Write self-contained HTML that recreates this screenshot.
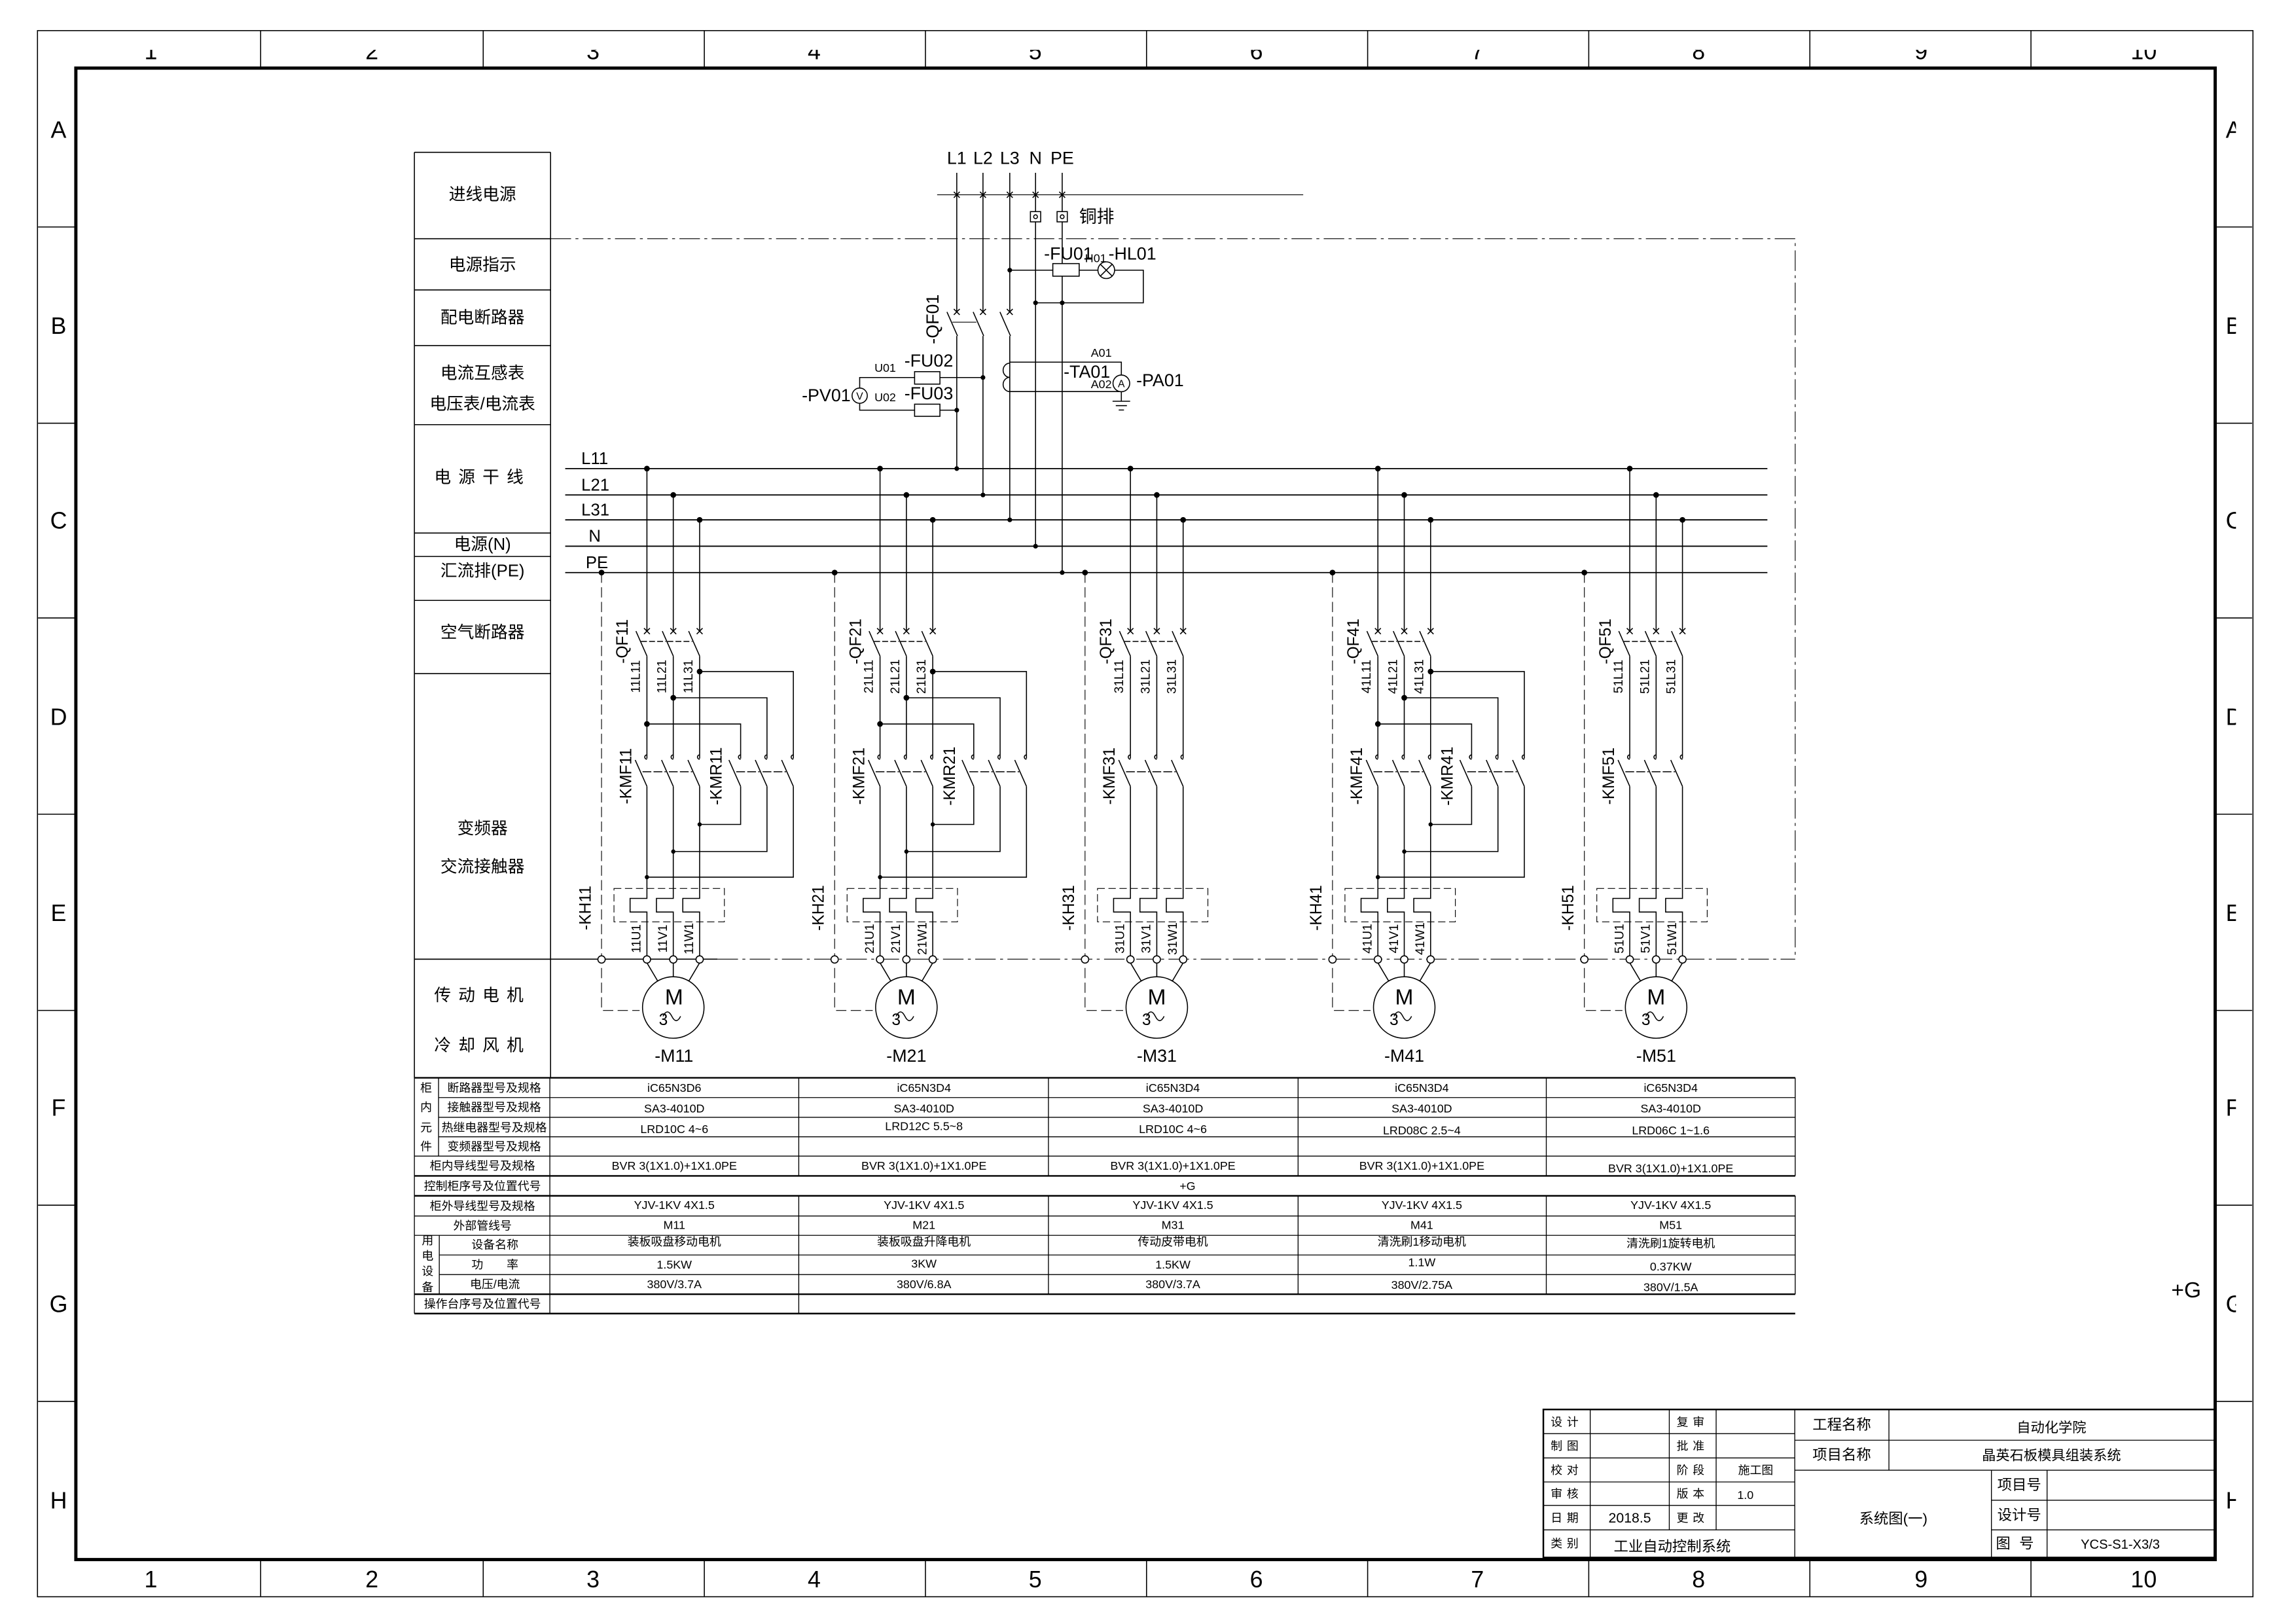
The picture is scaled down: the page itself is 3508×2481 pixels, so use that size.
<!DOCTYPE html>
<html><head><meta charset="utf-8"><style>
html,body{margin:0;padding:0;background:#fff;}
svg{display:block;}
text{font-family:"Liberation Sans","Noto Sans CJK SC",sans-serif;fill:#000;}
.t{font-size:11.5px;text-anchor:middle;dominant-baseline:central;}
.s{font-size:8px;text-anchor:middle;dominant-baseline:central;}
.m{font-size:12px;}
.r{font-size:8.5px;text-anchor:middle;dominant-baseline:central;}
</style></head><body>
<svg xmlns="http://www.w3.org/2000/svg" width="3508" height="2481" viewBox="0 0 1568 1109" preserveAspectRatio="none">
<defs>
<clipPath id="ctop"><rect x="0" y="34" width="1568" height="12"/></clipPath>
<clipPath id="cright"><rect x="1512" y="0" width="15" height="1109"/></clipPath>
<g id="br" stroke="#000" stroke-width="0.7" fill="none">
 <line x1="0" y1="320" x2="0" y2="431"/>
 <line x1="18" y1="338" x2="18" y2="431"/>
 <line x1="36" y1="355" x2="36" y2="431"/>
 <circle cx="0" cy="320" r="1.6" fill="#000"/>
 <circle cx="18" cy="338" r="1.6" fill="#000"/>
 <circle cx="36" cy="355" r="1.6" fill="#000"/>
 <path d="M-2,429 l4,4 M2,429 l-4,4 M16,429 l4,4 M20,429 l-4,4 M34,429 l4,4 M38,429 l-4,4"/>
 <path d="M-7.5,431 L0,448 M10.5,431 L18,448 M28.5,431 L36,448"/>
 <path d="M-4,438 H13 M14,438 H31" stroke-dasharray="4,1.5"/>
 <line x1="0" y1="448" x2="0" y2="518"/>
 <line x1="18" y1="448" x2="18" y2="518"/>
 <line x1="36" y1="448" x2="36" y2="518"/>
 <path d="M0,518.5 a1.5,1.5 0 1 1 0,-3 M18,518.5 a1.5,1.5 0 1 1 0,-3 M36,518.5 a1.5,1.5 0 1 1 0,-3"/>
 <path d="M-8,519 L0,537 M10,519 L18,537 M28,519 L36,537"/>
 <path d="M-3,527 H13 M15,527 H31" stroke-dasharray="6,1.5"/>
 <path d="M0,537 V613.5 H-11.5 V622.8 H0 V655 M18,537 V613.5 H6.5 V622.8 H18 V655 M36,537 V613.5 H24.5 V622.8 H36 V655"/>
 <rect x="-22.5" y="606.7" width="75.4" height="22.8" stroke-dasharray="5,2.5" stroke-width="0.5"/>
 <path d="M-31,391 V690 H-5" stroke-dasharray="7,3" stroke-width="0.5"/>
 <circle cx="-31" cy="391" r="1.6" fill="#000"/>
 <path d="M0,657.5 L8,671 M18,657.5 V667 M36,657.5 L28,671"/>
 <circle cx="18" cy="688" r="21" fill="#fff"/>
 <circle cx="0" cy="655.2" r="2.5" fill="#fff"/>
 <circle cx="18" cy="655.2" r="2.5" fill="#fff"/>
 <circle cx="36" cy="655.2" r="2.5" fill="#fff"/>
 <circle cx="-31" cy="655.2" r="2.5" fill="#fff"/>
 <path d="M11,694 q3,-6 6,0 q3,6 6,0"/>
</g>
<g id="rev" stroke="#000" stroke-width="0.7" fill="none">
 <path d="M36,458.6 H100 V518 M18,476.5 H82 V518 M0,494.4 H64 V518"/>
 <circle cx="36" cy="458.6" r="1.6" fill="#000"/>
 <circle cx="18" cy="476.5" r="1.6" fill="#000"/>
 <circle cx="0" cy="494.4" r="1.6" fill="#000"/>
 <path d="M64,518.5 a1.5,1.5 0 1 1 0,-3 M82,518.5 a1.5,1.5 0 1 1 0,-3 M100,518.5 a1.5,1.5 0 1 1 0,-3"/>
 <path d="M56,519 L64,537 M74,519 L82,537 M92,519 L100,537"/>
 <path d="M61,527 H77 M79,527 H95" stroke-dasharray="6,1.5"/>
 <path d="M64,537 V563 H36 M82,537 V581.5 H18 M100,537 V599 H0"/>
 <circle cx="36" cy="563" r="1.1" fill="#000"/>
 <circle cx="18" cy="581.5" r="1.1" fill="#000"/>
 <circle cx="0" cy="599" r="1.1" fill="#000"/>
</g>
</defs>
<rect width="1568" height="1109" fill="#fff"/>

<rect x="25.6" y="20.9" width="1513" height="1069.5" fill="none" stroke="#000" stroke-width="0.7"/>
<g clip-path="url(#ctop)" font-size="16" text-anchor="middle">
<text x="103" y="40.5">1</text><text x="254" y="40.5">2</text><text x="405" y="40.5">3</text><text x="556" y="40.5">4</text><text x="707" y="40.5">5</text><text x="858" y="40.5">6</text><text x="1009" y="40.5">7</text><text x="1160" y="40.5">8</text><text x="1312" y="40.5">9</text><text x="1464" y="40.5">10</text>
</g>
<g clip-path="url(#cright)" font-size="16">
<text x="1520" y="94">A</text><text x="1520" y="228">B</text><text x="1520" y="361">C</text><text x="1520" y="495">D</text><text x="1520" y="629">E</text><text x="1520" y="762">F</text><text x="1520" y="896">G</text><text x="1520" y="1030">H</text>
</g>
<g stroke="#000" stroke-width="0.7">
<path d="M178,21V46M330,21V46M481,21V46M632,21V46M783,21V46M934,21V46M1085,21V46M1236,21V46M1387,21V46"/>
<path d="M178,1065V1090M330,1065V1090M481,1065V1090M632,1065V1090M783,1065V1090M934,1065V1090M1085,1065V1090M1236,1065V1090M1387,1065V1090"/>
<path d="M26,155H52M26,289H52M26,422H52M26,556H52M26,690H52M26,823H52M26,957H52"/>
<path d="M1512,155H1538M1512,289H1538M1512,422H1538M1512,556H1538M1512,690H1538M1512,823H1538M1512,957H1538"/>
</g>
<rect x="51.8" y="46.5" width="1461" height="1018.5" fill="none" stroke="#000" stroke-width="2.2"/>
<g font-size="16" text-anchor="middle">
<text x="103" y="1084">1</text><text x="254" y="1084">2</text><text x="405" y="1084">3</text><text x="556" y="1084">4</text><text x="707" y="1084">5</text><text x="858" y="1084">6</text><text x="1009" y="1084">7</text><text x="1160" y="1084">8</text><text x="1312" y="1084">9</text><text x="1464" y="1084">10</text>
<text x="40" y="94">A</text><text x="40" y="228">B</text><text x="40" y="361">C</text><text x="40" y="495">D</text><text x="40" y="629">E</text><text x="40" y="762">F</text><text x="40" y="896">G</text><text x="40" y="1030">H</text>
</g>
<text x="1493" y="886" font-size="15" text-anchor="middle">+G</text>

<g stroke="#000" stroke-width="0.7">
<path d="M283,104H376M283,163H376M283,198H376M283,236H376M283,290H376M283,364H376M283,380H376M283,410H376M283,460H376M283,655H376"/>
<path d="M283,104V736M376,104V736"/>
</g>
<text class="t" x="329.5" y="133">进线电源</text>
<text class="t" x="329.5" y="181">电源指示</text>
<text class="t" x="329.5" y="217">配电断路器</text>
<text class="t" x="329.5" y="255">电流互感表</text>
<text class="t" x="329.5" y="276">电压表/电流表</text>
<text class="t" x="329.5" y="326" letter-spacing="5">电源干线</text>
<text class="t" x="329.5" y="372">电源(N)</text>
<text class="t" x="329.5" y="390">汇流排(PE)</text>
<text class="t" x="329.5" y="432">空气断路器</text>
<text class="t" x="329.5" y="566">变频器</text>
<text class="t" x="329.5" y="592">交流接触器</text>
<text class="t" x="329.5" y="680" letter-spacing="5">传动电机</text>
<text class="t" x="329.5" y="714" letter-spacing="5">冷却风机</text>

<g stroke="#000" stroke-width="0.5" fill="none" stroke-dasharray="14,3,2,3">
<path d="M376,163H1226V655"/>
<path d="M490,655H1226"/>
</g>
<line x1="283" y1="655" x2="490" y2="655" stroke="#000" stroke-width="0.7"/>

<g class="m" font-size="12.5" text-anchor="middle">
<text x="653.4" y="112">L1</text><text x="671.3" y="112">L2</text><text x="689.6" y="112">L3</text><text x="707.2" y="112">N</text><text x="725.4" y="112">PE</text>
</g>
<g stroke="#000" stroke-width="0.7" fill="none">
<line x1="640" y1="133" x2="890" y2="133" stroke-width="0.5"/>
<path d="M651.4,131l4,4M655.4,131l-4,4M669.3,131l4,4M673.3,131l-4,4M687.6,131l4,4M691.6,131l-4,4M705.2,131l4,4M709.2,131l-4,4M723.4,131l4,4M727.4,131l-4,4"/>
<path d="M653.4,118V213M671.3,118V213M689.6,118V213M707.2,118V373M725.4,118V391"/>
<rect x="703.7" y="144.5" width="7" height="7" fill="#fff"/><circle cx="707.2" cy="148" r="1.3"/>
<rect x="721.9" y="144.5" width="7" height="7" fill="#fff"/><circle cx="725.4" cy="148" r="1.3"/>
<path d="M651.4,211l4,4M655.4,211l-4,4M669.3,211l4,4M673.3,211l-4,4M687.6,211l4,4M691.6,211l-4,4"/>
<path d="M646.7,213L653.9,229.4M664.6,213L671.8,229.4M682.9,213L690.1,229.4"/>
<line x1="650.4" y1="220" x2="666.8" y2="220" stroke-width="0.5"/>
<path d="M653.4,229.4V320M671.3,229.4V338M689.6,229.4V355"/>
<path d="M689.6,184.5H749.8M761.2,184.5H780.8V206.8H707.2"/>
<rect x="719" y="180" width="18" height="8.6" fill="#fff"/>
<circle cx="755.5" cy="184.5" r="5.7"/>
<path d="M751.5,180.5l8,8M759.5,180.5l-8,8"/>
<path d="M689.6,247.3H765.8V256.1M765.8,267.4V274M689.6,267.4H765.8V267.4"/>
<path d="M689.6,248 a4.5,4.8 0 0 0 0,9.7 a4.5,4.8 0 0 0 0,9.7" />
<circle cx="765.8" cy="261.8" r="5.7" fill="#fff"/>
<path d="M759.8,274H771.8M762,277H769.6M764,280H767.6"/>
<path d="M587.1,264.9V257.8H671.3M587.1,275.4V280.1H653.4"/>
<rect x="624.6" y="253.8" width="17.3" height="8.5" fill="#fff"/>
<rect x="624.6" y="276" width="17.3" height="8.3" fill="#fff"/>
<circle cx="587.1" cy="270.2" r="5.2" fill="#fff"/>
</g>
<g fill="#000">
<circle cx="689.6" cy="184.5" r="1.6"/><circle cx="707.2" cy="206.8" r="1.6"/><circle cx="725.4" cy="206.8" r="1.6"/>
<circle cx="671.3" cy="257.8" r="1.6"/><circle cx="653.4" cy="280.1" r="1.6"/>
<circle cx="653.4" cy="320" r="1.6"/><circle cx="671.3" cy="338" r="1.6"/><circle cx="689.6" cy="355" r="1.6"/><circle cx="707.2" cy="373" r="1.6"/><circle cx="725.4" cy="391" r="1.6"/>
</g>
<text x="737" y="152" font-size="12" fill="#333">铜排</text>
<text x="713" y="177.3" font-size="12">-FU01</text>
<text x="741" y="179" font-size="8">H01</text>
<text x="757" y="177.3" font-size="12">-HL01</text>
<text x="745" y="243.6" font-size="8">A01</text>
<text x="745" y="265" font-size="8">A02</text>
<text x="726.4" y="258" font-size="12">-TA01</text>
<text x="776" y="263.8" font-size="12">-PA01</text>
<text x="765.8" y="264.5" font-size="7" text-anchor="middle">A</text>
<text x="587.1" y="273" font-size="7" text-anchor="middle">V</text>
<text x="617.6" y="250.3" font-size="12">-FU02</text>
<text x="617.6" y="272.7" font-size="12">-FU03</text>
<text x="547.6" y="274" font-size="12">-PV01</text>
<text x="597.2" y="254" font-size="8">U01</text>
<text x="597.2" y="274" font-size="8">U02</text>
<text x="637" y="218" font-size="12" text-anchor="middle" dominant-baseline="central" transform="rotate(-90 637 218)">-QF01</text>

<g stroke="#000" stroke-width="0.8">
<path d="M386,320H1207M386,338H1207M386,355H1207M386,373H1207M386,391H1207"/>
</g>
<g font-size="11.5">
<text x="397" y="317">L11</text><text x="397" y="335">L21</text><text x="397" y="352">L31</text><text x="402" y="370">N</text><text x="400" y="388">PE</text>
</g>

<use href="#br" x="441.8" y="0"/><use href="#rev" x="441.8" y="0"/>
<use href="#br" x="601" y="0"/><use href="#rev" x="601" y="0"/>
<use href="#br" x="772" y="0"/>
<use href="#br" x="941" y="0"/><use href="#rev" x="941" y="0"/>
<use href="#br" x="1113" y="0"/>

<g class="r">
<text x="425.4" y="438" font-size="11" transform="rotate(-90 425.4 438)">-QF11</text>
<text x="434.4" y="462" transform="rotate(-90 434.4 462)">11L11</text>
<text x="452.4" y="462" transform="rotate(-90 452.4 462)">11L21</text>
<text x="470.4" y="462" transform="rotate(-90 470.4 462)">11L31</text>
<text x="427.7" y="530" font-size="11" transform="rotate(-90 427.7 530)">-KMF11</text>
<text x="489.5" y="530" font-size="11" transform="rotate(-90 489.5 530)">-KMR11</text>
<text x="400" y="620" font-size="11" transform="rotate(-90 400 620)">-KH11</text>
<text x="435" y="641" transform="rotate(-90 435 641)">11U1</text>
<text x="453" y="641" transform="rotate(-90 453 641)">11V1</text>
<text x="471" y="641" transform="rotate(-90 471 641)">11W1</text>
<text x="584.6" y="438" font-size="11" transform="rotate(-90 584.6 438)">-QF21</text>
<text x="593.6" y="462" transform="rotate(-90 593.6 462)">21L11</text>
<text x="611.6" y="462" transform="rotate(-90 611.6 462)">21L21</text>
<text x="629.6" y="462" transform="rotate(-90 629.6 462)">21L31</text>
<text x="586.9" y="530" font-size="11" transform="rotate(-90 586.9 530)">-KMF21</text>
<text x="648.7" y="530" font-size="11" transform="rotate(-90 648.7 530)">-KMR21</text>
<text x="559.2" y="620" font-size="11" transform="rotate(-90 559.2 620)">-KH21</text>
<text x="594.2" y="641" transform="rotate(-90 594.2 641)">21U1</text>
<text x="612.2" y="641" transform="rotate(-90 612.2 641)">21V1</text>
<text x="630.2" y="641" transform="rotate(-90 630.2 641)">21W1</text>
<text x="755.6" y="438" font-size="11" transform="rotate(-90 755.6 438)">-QF31</text>
<text x="764.6" y="462" transform="rotate(-90 764.6 462)">31L11</text>
<text x="782.6" y="462" transform="rotate(-90 782.6 462)">31L21</text>
<text x="800.6" y="462" transform="rotate(-90 800.6 462)">31L31</text>
<text x="757.9" y="530" font-size="11" transform="rotate(-90 757.9 530)">-KMF31</text>
<text x="730.2" y="620" font-size="11" transform="rotate(-90 730.2 620)">-KH31</text>
<text x="765.2" y="641" transform="rotate(-90 765.2 641)">31U1</text>
<text x="783.2" y="641" transform="rotate(-90 783.2 641)">31V1</text>
<text x="801.2" y="641" transform="rotate(-90 801.2 641)">31W1</text>
<text x="924.6" y="438" font-size="11" transform="rotate(-90 924.6 438)">-QF41</text>
<text x="933.6" y="462" transform="rotate(-90 933.6 462)">41L11</text>
<text x="951.6" y="462" transform="rotate(-90 951.6 462)">41L21</text>
<text x="969.6" y="462" transform="rotate(-90 969.6 462)">41L31</text>
<text x="926.9" y="530" font-size="11" transform="rotate(-90 926.9 530)">-KMF41</text>
<text x="988.7" y="530" font-size="11" transform="rotate(-90 988.7 530)">-KMR41</text>
<text x="899.2" y="620" font-size="11" transform="rotate(-90 899.2 620)">-KH41</text>
<text x="934.2" y="641" transform="rotate(-90 934.2 641)">41U1</text>
<text x="952.2" y="641" transform="rotate(-90 952.2 641)">41V1</text>
<text x="970.2" y="641" transform="rotate(-90 970.2 641)">41W1</text>
<text x="1096.6" y="438" font-size="11" transform="rotate(-90 1096.6 438)">-QF51</text>
<text x="1105.6" y="462" transform="rotate(-90 1105.6 462)">51L11</text>
<text x="1123.6" y="462" transform="rotate(-90 1123.6 462)">51L21</text>
<text x="1141.6" y="462" transform="rotate(-90 1141.6 462)">51L31</text>
<text x="1098.9" y="530" font-size="11" transform="rotate(-90 1098.9 530)">-KMF51</text>
<text x="1071.2" y="620" font-size="11" transform="rotate(-90 1071.2 620)">-KH51</text>
<text x="1106.2" y="641" transform="rotate(-90 1106.2 641)">51U1</text>
<text x="1124.2" y="641" transform="rotate(-90 1124.2 641)">51V1</text>
<text x="1142.2" y="641" transform="rotate(-90 1142.2 641)">51W1</text>
</g>
<g text-anchor="middle">
<text x="460.3" y="686" font-size="15">M</text><text x="453" y="700" font-size="11">3</text><text x="460.3" y="725" font-size="12">-M11</text>
<text x="619" y="686" font-size="15">M</text><text x="612" y="700" font-size="11">3</text><text x="619" y="725" font-size="12">-M21</text>
<text x="790" y="686" font-size="15">M</text><text x="783" y="700" font-size="11">3</text><text x="790" y="725" font-size="12">-M31</text>
<text x="959" y="686" font-size="15">M</text><text x="952" y="700" font-size="11">3</text><text x="959" y="725" font-size="12">-M41</text>
<text x="1131" y="686" font-size="15">M</text><text x="1124" y="700" font-size="11">3</text><text x="1131" y="725" font-size="12">-M51</text>
</g>

<g stroke="#000" stroke-width="0.6" fill="none">
<path d="M283,736H1226M283,803H1226M283,816.6H1226M283,883.8H1226M283,897H1226" stroke-width="1.1"/>
<path d="M299.5,749.5H1226M299.5,763H1226M299.5,776.3H1226M283,789.5H1226M283,830.4H1226M283,843.6H1226M300,857H1226M300,870.4H1226"/>
<path d="M283,736V897M375.5,736V897M299.5,736V789.5M300,843.6V883.8M1226,736V803M1226,816.6V883.8"/>
<path d="M545.5,736V803M716,736V803M886.5,736V803M1056,736V803"/>
<path d="M545.5,816.6V897M716,816.6V883.8M886.5,816.6V883.8M1056,816.6V883.8"/>
</g>
<g class="s" font-size="7.5">
<text x="337.5" y="743">断路器型号及规格</text>
<text x="337.5" y="756">接触器型号及规格</text>
<text x="337.5" y="770">热继电器型号及规格</text>
<text x="337.5" y="783">变频器型号及规格</text>
<text x="291" y="743">柜</text><text x="291" y="756">内</text><text x="291" y="770">元</text><text x="291" y="783">件</text>
<text x="329.5" y="796">柜内导线型号及规格</text>
<text x="329.5" y="810">控制柜序号及位置代号</text>
<text x="329.5" y="823.5">柜外导线型号及规格</text>
<text x="329.5" y="837">外部管线号</text>
<text x="338" y="850">设备名称</text>
<text x="338" y="863.5">功　　率</text>
<text x="338" y="877">电压/电流</text>
<text x="292" y="847">用</text><text x="292" y="857.5">电</text><text x="292" y="868">设</text><text x="292" y="879">备</text>
<text x="329.5" y="890.5">操作台序号及位置代号</text>
</g>
<g class="s">
<text x="460.5" y="743">iC65N3D6</text><text x="631" y="743">iC65N3D4</text><text x="801" y="743">iC65N3D4</text><text x="971" y="743">iC65N3D4</text><text x="1141" y="743">iC65N3D4</text>
<text x="460.5" y="757">SA3-4010D</text><text x="631" y="757">SA3-4010D</text><text x="801" y="757">SA3-4010D</text><text x="971" y="757">SA3-4010D</text><text x="1141" y="757">SA3-4010D</text>
<text x="460.5" y="771">LRD10C 4~6</text><text x="631" y="769">LRD12C 5.5~8</text><text x="801" y="771">LRD10C 4~6</text><text x="971" y="772">LRD08C 2.5~4</text><text x="1141" y="772">LRD06C 1~1.6</text>
<text x="460.5" y="796">BVR 3(1X1.0)+1X1.0PE</text><text x="631" y="796">BVR 3(1X1.0)+1X1.0PE</text><text x="801" y="796">BVR 3(1X1.0)+1X1.0PE</text><text x="971" y="796">BVR 3(1X1.0)+1X1.0PE</text><text x="1141" y="798">BVR 3(1X1.0)+1X1.0PE</text>
<text x="811" y="810">+G</text>
<text x="460.5" y="823">YJV-1KV 4X1.5</text><text x="631" y="823">YJV-1KV 4X1.5</text><text x="801" y="823">YJV-1KV 4X1.5</text><text x="971" y="823">YJV-1KV 4X1.5</text><text x="1141" y="823">YJV-1KV 4X1.5</text>
<text x="460.5" y="836.5">M11</text><text x="631" y="836.5">M21</text><text x="801" y="836.5">M31</text><text x="971" y="836.5">M41</text><text x="1141" y="836.5">M51</text>
<text x="460.5" y="848">装板吸盘移动电机</text><text x="631" y="848">装板吸盘升降电机</text><text x="801" y="848">传动皮带电机</text><text x="971" y="848">清洗刷1移动电机</text><text x="1141" y="849">清洗刷1旋转电机</text>
<text x="460.5" y="863.5">1.5KW</text><text x="631" y="863">3KW</text><text x="801" y="863.5">1.5KW</text><text x="971" y="862">1.1W</text><text x="1141" y="865">0.37KW</text>
<text x="460.5" y="877">380V/3.7A</text><text x="631" y="877">380V/6.8A</text><text x="801" y="877">380V/3.7A</text><text x="971" y="877.5">380V/2.75A</text><text x="1141" y="879">380V/1.5A</text>
</g>

<g stroke="#000" stroke-width="0.6" fill="none">
<rect x="1054" y="962.5" width="458.5" height="101.1" stroke-width="1.1"/>
<path d="M1054,979H1225.7M1054,995.6H1225.7M1054,1012H1225.7M1054,1028H1225.7M1054,1044.7H1225.7"/>
<path d="M1086,962.5V1063.6M1140,962.5V1044.7M1172,962.5V1044.7M1225.7,962.5V1063.6"/>
<path d="M1225.7,983.5H1512.5M1225.7,1004H1512.5M1360,1024.5H1512.5M1360,1044.7H1512.5"/>
<path d="M1290,962.5V1004M1360,1004V1063.6M1398,1004V1063.6"/>
</g>
<g class="s" font-size="8.5">
<text x="1070" y="971" letter-spacing="3">设计</text><text x="1156" y="971" letter-spacing="3">复审</text>
<text x="1070" y="987.5" letter-spacing="3">制图</text><text x="1156" y="987.5" letter-spacing="3">批准</text>
<text x="1070" y="1004" letter-spacing="3">校对</text><text x="1156" y="1004" letter-spacing="3">阶段</text><text x="1199" y="1004">施工图</text>
<text x="1070" y="1020" letter-spacing="3">审核</text><text x="1156" y="1020" letter-spacing="3">版本</text><text x="1192" y="1021">1.0</text>
<text x="1070" y="1036.5" letter-spacing="3">日期</text><text x="1113" y="1036.5" font-size="9.5">2018.5</text><text x="1156" y="1036.5" letter-spacing="3">更改</text>
<text x="1070" y="1054" letter-spacing="3">类别</text><text x="1142" y="1056" font-size="10">工业自动控制系统</text>
<text x="1257.8" y="973" font-size="10">工程名称</text><text x="1401" y="975" font-size="9.5">自动化学院</text>
<text x="1257.8" y="993.5" font-size="10">项目名称</text><text x="1401" y="994" font-size="9.5">晶英石板模具组装系统</text>
<text x="1293" y="1037" font-size="10">系统图(一)</text>
<text x="1379" y="1014" font-size="10">项目号</text>
<text x="1379" y="1034.5" font-size="10">设计号</text>
<text x="1379" y="1054" font-size="10" letter-spacing="6">图号</text>
<text x="1448" y="1055" font-size="9">YCS-S1-X3/3</text>
</g>
</svg>
</body></html>
